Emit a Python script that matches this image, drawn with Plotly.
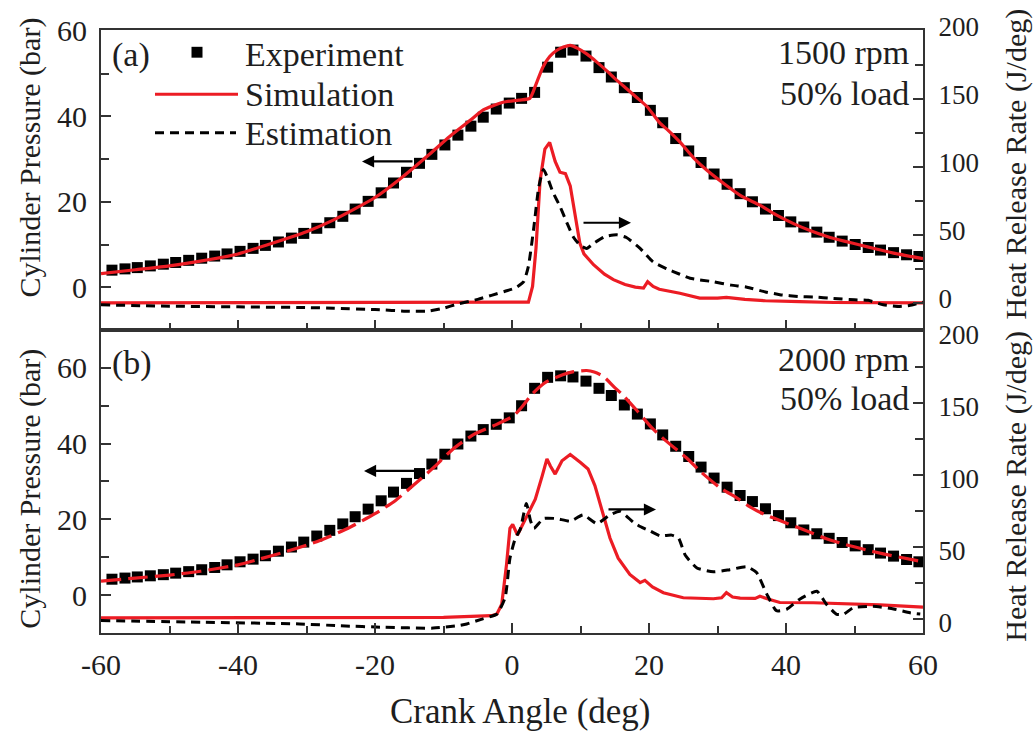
import plotly.graph_objects as go

# ---------------- data ----------------
# crank angles of the measured pressure samples (deg)
exp_angle = [-58.4, -56.5, -54.7, -52.8, -50.9, -49.1, -47.2, -45.3, -43.4, -41.6,
             -39.7, -37.8, -36.0, -34.1, -32.2, -30.4, -28.5, -26.6, -24.7, -22.9,
             -21.0, -19.1, -17.3, -15.4, -13.5, -11.7, -9.8, -7.9, -6.0, -4.2,
             -2.3, -0.4, 1.4, 3.3, 5.2, 7.1, 8.9, 10.8, 12.7, 14.5,
             16.4, 18.3, 20.2, 22.0, 23.9, 25.8, 27.6, 29.5, 31.4, 33.3,
             35.1, 37.0, 38.9, 40.7, 42.6, 44.5, 46.3, 48.2, 50.1, 52.0,
             53.8, 55.7, 57.6, 59.4]

# (a) 1500 rpm, 50% load
exp_p_a = [4.0, 4.3, 4.6, 5.0, 5.4, 5.8, 6.3, 6.8, 7.3, 7.8,
           8.4, 9.1, 9.8, 10.6, 11.5, 12.6, 13.8, 15.1, 16.6, 18.3,
           20.1, 22.1, 24.4, 26.9, 29.0, 31.1, 33.3, 35.6, 37.7, 39.8,
           41.7, 43.1, 44.2, 45.6, 51.5, 55.0, 55.5, 54.1, 51.4, 49.2,
           46.7, 44.4, 41.4, 38.5, 34.8, 31.9, 29.2, 26.5, 24.1, 21.9,
           20.0, 18.3, 16.8, 15.3, 14.1, 12.9, 11.7, 10.8, 10.0, 9.3,
           8.7, 8.1, 7.6, 7.2]

sim_p_a_angle = [-60, -55, -50, -45.5, -40, -35.8, -30, -26.1, -20, -16.4, -12, -9.1,
                 -6, -4.2, -1.3, 1.0, 2.6, 3.5, 4.5, 5.5, 6.5, 7.5, 8.5, 9.6, 10.9,
                 12.3, 13.8, 15.2, 16.7, 18.2, 19.7, 21.6, 22.6, 24.5, 26.5, 28.5,
                 31.3, 33.5, 36.2, 38.5, 41.1, 43.5, 46.0, 48.5, 50.8, 53.0, 55.7, 60]
sim_p_a = [3.2, 4.1, 5.0, 6.1, 7.8, 9.9, 13.0, 15.7, 21.0, 25.3, 31.2, 35.3,
           39.2, 41.5, 43.3, 43.8, 44.2, 47.5, 51.5, 54.0, 55.4, 56.2, 56.6, 55.9, 54.6,
           52.8, 50.7, 48.6, 46.5, 44.4, 42.3, 38.4, 37.0, 34.0, 30.3, 27.3,
           23.8, 21.3, 19.2, 17.0, 14.9, 13.3, 11.9, 10.8, 9.9, 9.0, 8.0, 6.7]

hrr_sim_a_angle = [-60, -20, 0, 2.4, 3.0, 3.5, 4.1, 4.8, 5.5, 6.3, 7.0, 7.8, 8.5, 9.2,
                   9.9, 10.5, 11.9, 13.5, 14.8, 16.5, 18.0, 19.2, 19.8, 20.6, 21.5,
                   24.5, 27.4, 30.0, 31.3, 34.0, 37.0, 42.0, 47.0, 60]
hrr_sim_a = [0.0, 0.0, 0.0, 0.5, 12, 40, 90, 113, 118, 104, 96, 95, 86, 65,
             44, 36, 28, 21, 17, 13.5, 11.5, 10.8, 15.5, 12, 10,
             7, 3.5, 3.5, 4, 2.5, 1.5, 0.8, 0.2, 0.0]

hrr_est_a_angle = [-60, -50, -40, -30, -26, -20, -15, -12, -10, -8, -5, -3, -1, 0.5,
                   1.7, 2.4, 3.2, 3.9, 4.6, 5.3, 6.0, 7.0, 8.0, 9.0, 10.0, 10.9, 12.0,
                   13.5, 15.3, 16.7, 18.7, 20.6, 22.6, 24.5, 26.0, 29.4, 32.0, 34.3,
                   37.0, 39.1, 42.0, 44.0, 46.9, 50.0, 52.0, 54.2, 56.6, 58.0, 60]
hrr_est_a = [-1.5, -2.5, -3.0, -3.5, -4.0, -5.0, -6.2, -6.0, -4.0, -1.0, 2.5, 5.5, 8.5, 11,
             15.5, 27, 56, 85, 98, 90.5, 81, 71, 59, 48, 42, 40, 44,
             48.5, 50, 48, 40, 30, 25, 21, 18, 15.5, 13, 11.5,
             8, 6, 4.6, 4.3, 3.2, 2.2, 1.8, -1.5, -2.7, -2.0, 0.5]

# (b) 2000 rpm, 50% load
exp_p_b = [4.2, 4.5, 4.8, 5.1, 5.4, 5.8, 6.2, 6.7, 7.3, 8.0,
           8.8, 9.5, 10.4, 11.6, 12.7, 14.0, 15.6, 17.1, 18.8, 20.7,
           22.7, 24.9, 27.2, 29.5, 32.1, 34.6, 37.2, 39.9, 42.0, 43.7,
           45.1, 46.8, 50.0, 54.6, 57.5, 57.9, 57.6, 56.5, 54.6, 52.7,
           50.2, 47.8, 45.2, 42.3, 39.3, 36.6, 33.8, 30.9, 28.5, 26.3,
           24.7, 22.8, 21.0, 19.1, 17.2, 16.2, 15.0, 13.9, 13.0, 12.0,
           11.1, 10.3, 9.4, 8.8]

sim_p_b_angle = [-60, -55, -50, -45.5, -40, -37.3, -33, -28.5, -24, -20, -17, -14.4,
                 -11.5, -8.6, -5.5, -2.7, 0.2, 1.5, 3.0, 5.0, 7.4, 9.0, 10.9, 12.0,
                 13.3, 15.0, 16.2, 18.2, 20.4, 22.3, 25.5, 27.4, 30.4, 32.8, 34.3,
                 36.5, 40.1, 42.5, 45.9, 48.4, 51.8, 54.2, 58.6, 60]
sim_p_b = [3.7, 4.5, 5.3, 6.3, 8.0, 9.3, 11.5, 14.1, 17.6, 21.5, 25.0, 29.0,
           33.6, 38.6, 42.5, 44.7, 47.3, 49.8, 53.2, 56.3, 58.2, 59.0, 59.3, 58.9,
           57.8, 54.8, 52.8, 48.8, 44.2, 41.0, 36.2, 32.8, 28.3, 25.7, 23.8,
           21.6, 19.0, 17.3, 14.9, 13.5, 11.9, 10.9, 9.3, 8.8]

hrr_sim_b_angle = [-60, -10, -3, -2.2, -1.5, -0.8, -0.3, 0.1, 0.8, 2.2, 3.4, 4.4, 5.1,
                   5.6, 6.3, 7.3, 8.5, 10.0, 11.1, 12.1, 13.1, 14.3, 15.5, 17.2, 18.7,
                   19.4, 20.5, 22.1, 25.0, 27.4, 29.4, 30.6, 31.3, 32.2, 33.3, 35.5,
                   36.2, 37.5, 39.1, 44.0, 48.9, 53.7, 60]
hrr_sim_b = [0.5, 0.8, 2, 3.2, 10, 37.5, 62.7, 65.4, 58.1, 72, 83, 99, 111,
             106, 100.4, 109.6, 114, 108.4, 104, 92.4, 76.4, 56, 42, 30.7, 25,
             26.6, 22, 18, 14.5, 14.2, 13.8, 14.5, 18, 15, 14.2, 14.0,
             15.5, 13.5, 11.2, 11, 10.5, 9.6, 8]

hrr_est_b_angle = [-60, -45, -31, -25, -18.8, -11.5, -8, -6.6, -4.5, -2.2, -1.0, -0.3,
                   0.5, 1.2, 2.1, 2.7, 3.2, 4.6, 6.5, 8.5, 10.4, 12.4, 14.3, 15.8,
                   17.7, 18.7, 20.1, 21.6, 23.3, 24.3, 25.3, 27.0, 29.4, 31.8, 34.3,
                   35.7, 37.2, 38.6, 40.1, 42.0, 44.5, 45.9, 47.4, 48.4, 49.8, 52.7,
                   55.7, 58.1, 59.6]
hrr_est_b = [-1.4, -2.5, -3.7, -5, -6, -6.6, -5, -3.7, -0.5, 3.2, 14.6, 42,
             56, 62, 80, 68, 62.7, 69.5, 69.5, 67.7, 72, 66, 72, 74.5,
             67, 64, 61, 57.5, 58, 56, 44, 35.2, 32.5, 34, 36,
             32, 17, 5.5, 6.5, 13.5, 19, 10, 3, 3, 7.5, 8.5,
             6.7, 4, 3.2]

x_ticks = [-60, -40, -20, 0, 20, 40, 60]
x_tick_text = ["-60", "-40", "-20", "0", "20", "40", "60"]
p_ticks = [0, 20, 40, 60]
hrr_ticks = [0, 50, 100, 150, 200]

# ---------------- styling ----------------
RED = "#ec1c24"
INK = "#1e1e1e"
AXC = "#333333"
FONT = "Liberation Serif"
W, H = 1035, 735
ML, MR, MT, MB = 101, 112, 23, 102
PW, PH = W - ML - MR, H - MT - MB
SPLIT = 0.5025


def fx(px):
    return (px - ML) / PW


def fy(py):
    return (H - MB - py) / PH


fig = go.Figure()

sq = dict(symbol="square", size=11, color="black")
red_solid = dict(color=RED, width=3.2)
est_dash = dict(color="black", width=3, dash="9px,6px", shape="spline", smoothing=0.5)

# panel (a): pressure on y3, heat release on y4
fig.add_trace(go.Scatter(x=exp_angle, y=exp_p_a, mode="markers", xaxis="x2", yaxis="y3",
                         marker=sq))
fig.add_trace(go.Scatter(x=sim_p_a_angle, y=sim_p_a, mode="lines", xaxis="x2", yaxis="y3",
                         line=dict(red_solid, shape="spline", smoothing=0.6)))
fig.add_trace(go.Scatter(x=hrr_sim_a_angle, y=hrr_sim_a, mode="lines", xaxis="x2", yaxis="y4",
                         line=red_solid))
fig.add_trace(go.Scatter(x=hrr_est_a_angle, y=hrr_est_a, mode="lines", xaxis="x2", yaxis="y4",
                         line=est_dash))

# panel (b): pressure on y, heat release on y2
fig.add_trace(go.Scatter(x=exp_angle, y=exp_p_b, mode="markers", xaxis="x", yaxis="y",
                         marker=sq))
fig.add_trace(go.Scatter(x=sim_p_b_angle, y=sim_p_b, mode="lines", xaxis="x", yaxis="y",
                         line=dict(red_solid, dash="20px,7px", shape="spline", smoothing=0.6)))
fig.add_trace(go.Scatter(x=hrr_sim_b_angle, y=hrr_sim_b, mode="lines", xaxis="x", yaxis="y2",
                         line=red_solid))
fig.add_trace(go.Scatter(x=hrr_est_b_angle, y=hrr_est_b, mode="lines", xaxis="x", yaxis="y2",
                         line=est_dash))

tickfont = dict(family=FONT, size=30, color=INK)
rtickfont = dict(family=FONT, size=27, color=INK)
common = dict(showline=True, linecolor=AXC, linewidth=2, ticks="inside", ticklen=10,
              tickwidth=2, tickcolor=AXC, showgrid=False, zeroline=False,
              tickfont=tickfont)
yminor_p = dict(tickvals=[10, 30, 50], ticks="inside", ticklen=8, tickwidth=2, tickcolor=AXC)
yminor_h = dict(tickvals=[25, 75, 125, 175], ticks="inside", ticklen=8, tickwidth=2,
                tickcolor=AXC)

xcommon = dict(common, range=[-60, 60], tickvals=x_ticks, ticktext=x_tick_text, mirror=True,
               minor=dict(dtick=10, ticks="inside", ticklen=7, tickwidth=2,
                          tickcolor=AXC, showgrid=False))

fig.update_layout(
    width=W, height=H,
    margin=dict(l=ML, r=MR, t=MT, b=MB),
    paper_bgcolor="white", plot_bgcolor="white",
    showlegend=False,
    font=dict(family=FONT, color=INK),
    xaxis=dict(xcommon, anchor="y", domain=[0, 1], ticklabelstandoff=4),
    xaxis2=dict(xcommon, anchor="y3", matches="x", showticklabels=False),
    yaxis=dict(common, domain=[0, SPLIT], range=[-10, 70], tickvals=p_ticks, minor=yminor_p,
               ticklabelstandoff=6),
    yaxis2=dict(common, overlaying="y", side="right", anchor="x", range=[-10, 200.5],
                tickvals=hrr_ticks, minor=yminor_h, tickfont=rtickfont,
                ticklabelstandoff=8, ticklabelshift=4),
    yaxis3=dict(common, domain=[SPLIT, 1], anchor="x2", range=[-10, 60.2], tickvals=p_ticks,
                minor=yminor_p, ticklabelstandoff=6),
    yaxis4=dict(common, overlaying="y3", side="right", anchor="x2", range=[-20, 200.6],
                tickvals=hrr_ticks, minor=yminor_h, tickfont=rtickfont,
                ticklabelstandoff=8, ticklabelshift=-4),
)

txt = dict(family=FONT, size=34, color=INK)
ttl = dict(family=FONT, size=30, color=INK)
ann = []


def label(text, px, py, xanchor="left", font=txt, angle=0):
    ann.append(dict(text=text, x=fx(px), y=fy(py), xref="paper", yref="paper",
                    xanchor=xanchor, yanchor="middle", showarrow=False,
                    font=font, textangle=angle))


def arrow(head_px, tail_px, py):
    ann.append(dict(text="", x=fx(head_px), y=fy(py), xref="paper", yref="paper",
                    ax=tail_px - head_px, ay=0, axref="pixel", ayref="pixel",
                    showarrow=True, arrowhead=2, arrowsize=1.1, arrowwidth=2.2,
                    arrowcolor="black"))


# panel tags, operating conditions
label("(a)", 110, 48)
label("(b)", 110, 360)
label("1500 rpm", 911, 46, xanchor="right")
label("50% load", 911, 87, xanchor="right")
label("2000 rpm", 911, 356, xanchor="right")
label("50% load", 911, 396, xanchor="right")

# legend
label("Experiment", 243, 48)
label("Simulation", 243, 88)
label("Estimation", 243, 128)

# axis titles
label("Cylinder Pressure (bar)", 30, 152, xanchor="center", font=ttl, angle=-90)
label("Cylinder Pressure (bar)", 30, 487, xanchor="center", font=ttl, angle=-90)
label("Heat Release Rate (J/deg)", 1016, 158, xanchor="center", font=ttl, angle=-90)
label("Heat Release Rate (J/deg)", 1016, 484, xanchor="center", font=ttl, angle=-90)
label("Crank Angle (deg)", 520, 712, xanchor="center", font=dict(txt, size=35))

# arrows pointing each curve to its axis
arrow(362, 414, 156)
arrow(631, 582, 218)
arrow(364, 419, 469)
arrow(656, 607, 508)

fig.update_layout(annotations=ann)

# legend keys
fig.add_shape(type="rect", xref="paper", yref="paper",
              x0=fx(191.5), x1=fx(202.5), y0=fy(51), y1=fy(40),
              fillcolor="black", line=dict(width=0))
fig.add_shape(type="line", xref="paper", yref="paper",
              x0=fx(155), x1=fx(238), y0=fy(88), y1=fy(88),
              line=dict(color=RED, width=3.2))
fig.add_shape(type="line", xref="paper", yref="paper",
              x0=fx(155), x1=fx(236), y0=fy(127), y1=fy(127),
              line=dict(color="black", width=3, dash="9px,6px"))

fig.write_html("out.html")
